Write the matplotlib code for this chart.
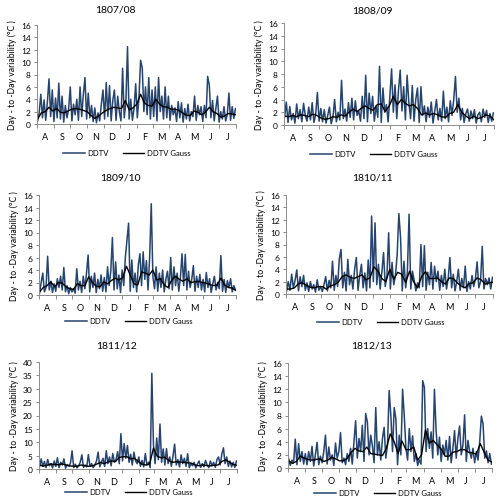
import matplotlib.pyplot as plt
import numpy as np

plt.rcParams['font.family'] = ['Lato', 'DejaVu Sans']

months = ['A', 'S', 'O', 'N', 'D', 'J', 'F', 'M', 'A', 'M', 'J', 'J']
month_days = [31, 30, 31, 30, 31, 31, 28, 31, 30, 31, 30, 31]

# DDTV, one value every 3 days starting 1 Aug
ddtv_1807 = [0.5, 1.8, 4.8, 1.0, 3.9, 0.6, 3.5, 7.3, 1.2, 5.5,
             0.4, 4.2, 1.0, 6.6, 0.8, 4.5, 0.3, 3.0, 1.0, 2.4,
             6.0, 0.5, 3.2, 1.5, 4.0, 0.6, 6.0, 1.2, 4.8, 7.5,
             0.8, 5.0, 1.0, 3.0, 0.4, 2.6, 0.2, 1.8, 0.5, 3.2,
             5.5, 0.8, 6.7, 1.2, 6.2, 0.5, 3.8, 5.5, 0.6, 4.5,
             2.0, 0.5, 9.0, 1.0, 3.5, 12.5, 0.8, 4.0, 0.6, 2.5,
             6.5, 1.0, 4.2, 10.3, 9.1, 2.0, 6.0, 1.5, 7.5, 0.8,
             5.5, 1.2, 6.0, 0.5, 7.5, 2.0, 4.5, 0.8, 6.0, 1.0,
             4.5, 0.6, 3.0, 1.5, 2.6, 0.4, 3.6, 1.0, 3.4, 0.3,
             2.5, 0.8, 3.2, 0.5, 2.0, 1.2, 4.5, 0.6, 3.0, 1.5,
             2.8, 0.4, 3.0, 1.0, 7.7, 6.3, 1.0, 3.8, 0.5, 2.5,
             4.5, 0.3, 2.0, 0.8, 2.8, 0.5, 1.5, 5.0, 0.6, 2.8,
             0.9, 2.5]
ddtv_1808 = [1.2, 3.6, 0.4, 2.9, 0.8, 1.8, 0.3, 3.3, 1.0, 2.4,
             0.5, 3.4, 1.5, 0.6, 2.8, 0.8, 3.5, 0.4, 1.6, 5.1,
             0.6, 2.6, 0.5, 2.4, 0.3, 1.5, 2.8, 0.2, 1.2, 4.0,
             0.5, 2.0, 0.8, 7.0, 1.0, 2.5, 0.6, 3.5, 1.2, 4.2,
             0.8, 3.8, 1.5, 2.2, 0.6, 4.5, 1.0, 7.8, 0.5, 5.0,
             1.8, 4.5, 0.6, 3.0, 1.2, 9.2, 0.4, 5.8, 2.0, 3.2,
             0.5, 4.5, 8.8, 2.0, 6.3, 1.0, 5.5, 8.6, 2.2, 6.0,
             0.8, 7.8, 3.5, 1.0, 6.2, 0.6, 4.0, 5.8, 0.4, 6.0,
             1.5, 3.0, 0.5, 2.8, 1.2, 3.6, 0.3, 2.2, 4.0, 0.8,
             2.6, 0.6, 5.3, 1.0, 2.8, 0.5, 3.8, 1.5, 4.0, 7.6,
             2.0, 4.2, 0.8, 2.6, 0.4, 1.8, 2.5, 0.6, 2.2, 1.0,
             2.4, 0.3, 1.6, 2.0, 0.5, 2.5, 1.2, 2.3, 0.4, 1.8,
             0.6, 1.9]
ddtv_1809 = [0.3, 2.0, 3.5, 0.5, 1.2, 6.2, 0.8, 2.2, 0.4, 1.8,
             0.6, 2.6, 1.2, 3.0, 0.8, 4.4, 0.5, 1.5, 0.2, 1.2,
             0.5, 1.0, 0.3, 4.2, 0.8, 2.2, 0.4, 3.0, 1.0, 3.5,
             6.4, 0.5, 3.0, 1.2, 3.5, 0.4, 2.5, 1.0, 3.2, 0.6,
             2.8, 0.5, 4.5, 1.5, 3.8, 9.2, 0.8, 5.3, 1.0, 3.2,
             0.4, 4.0, 1.5, 6.0, 8.8, 11.5, 0.6, 5.6, 1.2, 3.5,
             0.5, 4.8, 6.6, 1.5, 6.9, 2.5, 5.5, 0.8, 6.0, 14.6,
             3.0, 1.0, 4.5, 0.6, 3.5, 1.2, 4.0, 0.5, 2.5, 3.8,
             1.0, 6.0, 0.8, 4.5, 1.5, 3.5, 0.6, 2.8, 6.6, 1.5,
             6.5, 0.8, 3.8, 1.2, 2.5, 4.7, 0.6, 3.0, 1.2, 3.3,
             0.8, 2.5, 0.5, 3.6, 1.2, 2.6, 0.4, 1.8, 3.0, 0.8,
             2.0, 1.0, 6.3, 0.6, 2.5, 0.4, 2.3, 1.2, 2.6, 0.5,
             1.5, 0.8]
ddtv_1810 = [0.5, 2.0, 0.6, 3.2, 1.0, 2.2, 3.9, 0.5, 2.8, 1.2,
             3.0, 0.6, 1.8, 0.4, 2.0, 0.8, 1.5, 0.3, 2.3, 0.6,
             1.2, 0.4, 1.5, 2.8, 0.5, 2.2, 1.0, 5.3, 0.6, 3.0,
             1.2, 5.7, 7.2, 1.0, 3.5, 0.5, 5.6, 1.5, 3.0, 0.8,
             4.0, 5.9, 0.6, 3.0, 4.8, 1.0, 3.4, 0.5, 5.5, 1.0,
             12.6, 2.0, 11.5, 1.5, 4.8, 0.8, 3.5, 6.7, 1.2, 3.0,
             9.9, 0.8, 5.1, 1.5, 3.0, 6.3, 13.0, 9.1, 0.5, 5.3,
             1.0, 3.5, 12.9, 0.8, 3.7, 2.2, 0.5, 1.8, 1.0, 8.0,
             1.2, 7.8, 0.6, 3.5, 1.5, 5.1, 0.8, 4.5, 2.0, 3.7,
             0.6, 3.0, 1.2, 4.0, 0.8, 2.5, 5.9, 1.0, 3.2, 0.5,
             2.0, 4.0, 0.6, 2.5, 1.0, 4.5, 0.4, 2.0, 0.8, 3.0,
             1.2, 2.5, 5.2, 1.0, 2.0, 7.7, 0.8, 2.5, 1.5, 2.6,
             0.8, 2.7]
ddtv_1811 = [0.8, 3.8, 1.0, 2.8, 0.5, 3.6, 1.2, 2.0, 0.4, 3.0,
             1.0, 4.2, 0.5, 2.5, 1.5, 3.8, 0.3, 1.6, 1.0, 2.2,
             6.8, 0.5, 1.8, 0.4, 1.2, 2.5, 5.3, 0.6, 1.5, 0.8,
             5.4, 1.0, 2.0, 0.5, 1.5, 3.0, 6.3, 0.8, 2.5, 4.0,
             1.0, 6.8, 2.0, 4.5, 1.2, 5.8, 2.5, 3.5, 6.5, 2.0,
             13.2, 3.0, 9.5, 4.0, 8.8, 2.5, 5.5, 1.5, 6.3, 3.0,
             2.0, 4.5, 1.0, 3.2, 0.8, 5.8, 1.5, 2.5, 0.5, 35.8,
             9.0, 2.0, 11.6, 3.5, 16.8, 2.5, 7.5, 1.5, 7.6, 2.0,
             4.5, 1.0, 4.8, 9.3, 1.5, 3.5, 0.8, 5.3, 2.0, 4.0,
             1.0, 5.7, 0.5, 2.0, 1.2, 2.5, 0.4, 1.8, 3.0, 0.6,
             2.0, 0.8, 3.2, 1.5, 0.5, 3.0, 1.2, 2.5, 0.6, 3.5,
             4.5, 1.5, 5.5, 7.9, 2.0, 4.5, 1.0, 3.0, 0.8, 2.5,
             0.6, 3.0]
ddtv_1812 = [1.5, 0.4, 1.2, 0.8, 4.4, 0.5, 3.7, 1.0, 2.5, 0.6,
             2.2, 0.5, 2.5, 1.0, 3.3, 0.3, 2.0, 3.9, 0.5, 1.8,
             0.8, 2.5, 5.0, 0.6, 3.2, 1.2, 2.0, 0.4, 3.8, 1.5,
             2.5, 5.4, 0.8, 1.5, 0.5, 2.2, 1.0, 3.0, 0.6, 4.0,
             7.2, 1.5, 4.5, 2.5, 6.5, 1.0, 8.3, 7.0, 2.0, 5.0,
             3.4, 0.8, 9.2, 2.0, 4.0, 1.2, 4.5, 6.2, 1.5, 3.5,
             11.8, 8.0, 2.5, 9.2, 7.5, 0.5, 5.0, 2.0, 12.0, 8.0,
             3.0, 1.2, 6.0, 2.5, 4.9, 1.0, 2.2, 0.4, 1.2, 0.6,
             13.3, 12.3, 2.5, 6.0, 3.0, 5.5, 1.5, 12.0, 5.7, 2.0,
             4.7, 1.0, 3.5, 2.0, 4.2, 1.2, 4.8, 0.8, 3.0, 5.7,
             1.5, 4.5, 6.4, 2.0, 3.5, 8.1, 1.0, 4.2, 2.5, 1.5,
             3.0, 0.8, 2.5, 1.2, 4.0, 7.9, 6.7, 1.5, 2.6, 0.8,
             2.2, 0.6]

# DDTV Gauss, one value per week
gauss_1807 = [0.8, 1.8, 2.0, 2.7, 2.1, 2.5, 1.9, 1.8, 2.1, 2.4,
              2.5, 2.4, 2.2, 2.0, 1.4, 0.9, 1.3, 1.8, 2.2, 2.5,
              2.7, 2.6, 2.5, 3.8, 2.3, 2.6, 3.2, 4.8, 3.4, 3.0,
              2.9, 4.0, 3.2, 2.8, 2.7, 2.4, 2.4, 2.2, 1.8, 1.4,
              1.4, 2.1, 1.9, 1.5, 1.9, 2.7, 2.0, 1.7, 1.1, 1.3,
              1.7, 1.6, 1.5]
gauss_1808 = [1.4, 1.3, 1.5, 1.3, 1.6, 1.5, 1.3, 1.7, 1.5, 1.1,
              0.9, 1.0, 1.3, 1.2, 1.6, 1.4, 2.0, 2.5, 2.1, 2.6,
              3.0, 2.6, 2.3, 3.2, 3.3, 2.1, 3.0, 4.5, 3.2, 4.0,
              3.4, 3.0, 3.2, 2.6, 1.6, 1.9, 1.6, 1.8, 1.6, 1.3,
              1.2, 1.8, 2.0, 3.2, 2.0, 1.4, 1.0, 1.4, 1.0, 1.2,
              1.6, 1.4, 0.8]
gauss_1809 = [0.5, 1.2, 1.5, 2.1, 1.3, 2.0, 1.9, 1.3, 1.0, 0.9,
              1.8, 1.5, 1.5, 2.9, 2.0, 1.4, 1.3, 2.1, 1.8, 2.3,
              2.7, 2.4, 2.8, 4.6, 3.2, 1.8, 1.6, 3.7, 3.5, 3.2,
              4.0, 2.4, 2.6, 1.6, 1.2, 2.4, 3.0, 2.5, 2.2, 2.6,
              2.0, 2.1, 2.2, 2.0, 1.9, 1.7, 1.5, 1.6, 2.7, 1.6,
              1.2, 1.1, 0.7]
gauss_1810 = [0.8, 0.8, 1.0, 1.7, 1.8, 1.4, 1.1, 1.0, 1.2, 1.2,
              0.8, 1.3, 1.5, 1.9, 2.8, 3.1, 2.7, 2.5, 2.8, 3.1,
              2.3, 2.6, 4.4, 3.7, 2.5, 2.0, 4.0, 2.4, 3.5, 3.2,
              1.9, 3.7, 2.0, 1.0, 2.8, 3.6, 2.5, 2.5, 2.6, 2.0,
              1.6, 2.6, 2.5, 1.8, 1.3, 1.0, 1.7, 1.8, 2.6, 2.3,
              1.6, 1.8, 1.9]
gauss_1811 = [1.5, 1.1, 1.4, 1.9, 1.6, 1.6, 1.9, 1.5, 1.2, 1.0,
              1.1, 1.5, 1.2, 1.0, 1.2, 1.8, 2.5, 2.0, 2.6, 3.0,
              2.8, 4.3, 4.6, 4.6, 3.8, 4.0, 2.8, 1.8, 1.5, 1.9,
              7.8, 4.8, 4.2, 4.4, 3.2, 2.5, 2.7, 2.6, 2.5, 2.3,
              2.2, 1.5, 1.2, 1.5, 1.3, 1.2, 1.4, 1.5, 2.8, 3.4,
              2.6, 1.7, 1.4]
gauss_1812 = [1.1, 0.7, 1.0, 1.8, 1.5, 1.3, 1.2, 1.3, 1.4, 1.0,
              1.2, 1.6, 1.4, 1.1, 1.1, 1.5, 2.4, 3.0, 2.6, 2.5,
              3.2, 2.2, 2.1, 2.0, 1.9, 3.0, 5.2, 4.0, 2.2, 4.1,
              2.8, 2.8, 3.2, 1.2, 2.0, 5.8, 3.8, 4.2, 3.5, 2.9,
              1.8, 1.8, 2.4, 2.5, 2.8, 2.8, 2.4, 2.3, 2.1, 3.7,
              2.4, 1.2, 0.9]

titles = ['1807/08', '1808/09', '1809/10', '1810/11', '1811/12', '1812/13']
ddtv_all = [ddtv_1807, ddtv_1808, ddtv_1809, ddtv_1810, ddtv_1811, ddtv_1812]
gauss_all = [gauss_1807, gauss_1808, gauss_1809, gauss_1810, gauss_1811, gauss_1812]

W, H = 500, 502
# axes boxes in pixels: x0, x1, ytop, ybottom
boxes = [(37, 236, 26, 125), (284, 494, 24, 126),
         (39, 236, 196, 296), (286, 493, 196, 295),
         (39, 237, 363, 470), (288, 492, 364, 469)]
title_pos = [(115, 10), (372, 11), (120, 178), (372, 178), (117, 346), (372, 346)]
legend_pos = [(127, 154), (374, 155), (129, 322), (381, 323), (129, 493), (378, 494)]

fig = plt.figure(figsize=(W / 100, H / 100), dpi=100)

bounds = np.concatenate([[0], np.cumsum(month_days)])
centers = (bounds[:-1] + bounds[1:]) / 2
grey = '#8c8c8c'

for i in range(6):
    x0, x1, yt, yb = boxes[i]
    ax = fig.add_axes([x0 / W, 1 - yb / H, (x1 - x0) / W, (yb - yt) / H])
    d = ddtv_all[i]
    g = gauss_all[i]
    ax.plot(np.arange(len(d)) * 3 + 1, d, color='#26446e', lw=1.1, label='DDTV')
    ax.plot(np.arange(len(g)) * 7 + 1, g, color='black', lw=1.0, label='DDTV Gauss')

    ax.set_xlim(0, 365)
    if i == 4:
        ax.set_ylim(0, 40)
        ax.set_yticks(np.arange(0, 41, 5))
    else:
        ax.set_ylim(0, 16)
        ax.set_yticks(np.arange(0, 17, 2))

    ax.set_xticks(bounds)
    ax.set_xticklabels([])
    ax.set_xticks(centers, minor=True)
    ax.set_xticklabels(months, minor=True)
    ax.tick_params(axis='x', which='major', length=3, color=grey, width=0.7)
    ax.tick_params(axis='x', which='minor', length=0, pad=6, labelsize=6.5)
    ax.tick_params(axis='y', length=2.5, color=grey, width=0.7, labelsize=6, pad=2)

    for s in ['top', 'right']:
        ax.spines[s].set_visible(False)
    for s in ['left', 'bottom']:
        ax.spines[s].set_color(grey)
        ax.spines[s].set_linewidth(0.7)

    ax.set_ylabel('Day - to -Day variability (°C )', fontsize=6.2, labelpad=3)

    tx, ty = title_pos[i]
    fig.text(tx / W, 1 - ty / H, titles[i], ha='center', va='center', fontsize=7.5)

    lx, ly = legend_pos[i]
    ax.legend(loc='center', bbox_to_anchor=(lx / W, 1 - ly / H),
              bbox_transform=fig.transFigure, ncol=2, frameon=False,
              fontsize=5.5, handlelength=2.8, columnspacing=1.8, handletextpad=0.4)

fig.savefig('out.png', dpi=100)
